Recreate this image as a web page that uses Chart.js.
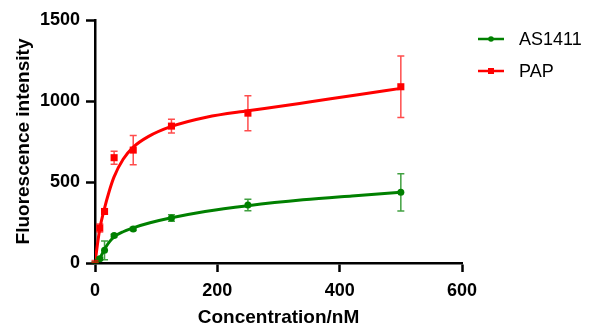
<!DOCTYPE html>
<html lang="en">
  <head>
    <meta charset="utf-8">
    <title>Binding curves</title>
    <script src="https://cdn.jsdelivr.net/npm/chart.js"></script>
    <style>
      html, body { margin: 0; padding: 0; background: #fff; }
      #wrap { width: 591px; height: 329px; }
    </style>
  </head>
  <body>
    <div id="wrap">
        <canvas id="myChart" width="591" height="329"></canvas>
    </div>
  </body>

  <script>
    // measured points (concentration in nM)
    const conc = [0, 7.8, 15.6, 31.25, 62.5, 125, 250, 500];
    const papMean = [10, 216, 318, 650, 697, 845, 925, 1088];
    const papErr = [5, 25, 15, 40, 90, 42, 108, 190];
    const asMean = [5, 27, 78, 169, 210, 278, 358, 436];
    const asErr = [3, 8, 58, 8, 10, 20, 35, 115];

    // fitted curves
    const papFitX = [0, 4, 8, 15, 23, 31, 46, 62.5, 87, 125, 182, 250, 300, 350, 430, 500];
    const papFitY = [0, 115, 214, 330, 440, 530, 640, 715, 780, 843, 900, 940, 966, 994, 1039, 1078];
    const asFitX = [0, 4, 8, 16, 24.5, 32.6, 46, 62.5, 90, 125, 180, 250, 340, 420, 500];
    const asFitY = [0, 12, 30, 88, 135, 165, 193, 217, 248, 279, 318, 354, 390, 414, 436];

    const xTicks = [0, 200, 400, 600];
    const yTicks = [0, 500, 1000, 1500];

    const RED = 'rgb(255, 0, 0)';
    const GREEN = 'rgb(0, 128, 0)';
    const FONT = '"Liberation Sans", Arial, sans-serif';

    const pts = (xs, ys) => xs.map((x, i) => ({x: x, y: ys[i]}));

    const errorBars = {
        id: 'errorBars',
        afterDatasetsDraw(chart) {
            const ctx = chart.ctx;
            const xs = chart.scales.x, ys = chart.scales.y;
            chart.data.datasets.forEach(ds => {
                if (!ds.errs) return;
                ctx.save();
                ctx.strokeStyle = ds.errColor;
                ctx.lineWidth = 1.5;
                ds.data.forEach((p, i) => {
                    const px = xs.getPixelForValue(p.x);
                    const top = ys.getPixelForValue(p.y + ds.errs[i]);
                    const bot = ys.getPixelForValue(Math.max(0, p.y - ds.errs[i]));
                    ctx.beginPath();
                    ctx.moveTo(px, top); ctx.lineTo(px, bot);
                    ctx.moveTo(px - 3.5, top); ctx.lineTo(px + 3.5, top);
                    ctx.moveTo(px - 3.5, bot); ctx.lineTo(px + 3.5, bot);
                    ctx.stroke();
                });
                ctx.restore();
            });
        }
    };

    const sideLegend = {
        id: 'sideLegend',
        afterDraw(chart) {
            const ctx = chart.ctx;
            const items = [
                {label: 'AS1411', color: GREEN, shape: 'circle', y: 39},
                {label: 'PAP', color: RED, shape: 'rect', y: 71}
            ];
            ctx.save();
            items.forEach(it => {
                ctx.strokeStyle = it.color;
                ctx.fillStyle = it.color;
                ctx.lineWidth = 2.5;
                ctx.beginPath();
                ctx.moveTo(478, it.y); ctx.lineTo(504, it.y);
                ctx.stroke();
                if (it.shape === 'circle') {
                    ctx.beginPath(); ctx.arc(491, it.y, 2.8, 0, Math.PI * 2); ctx.fill();
                } else {
                    ctx.fillRect(488, it.y - 3, 6, 6);
                }
                ctx.fillStyle = '#000';
                ctx.font = '18px ' + FONT;
                ctx.textBaseline = 'middle';
                ctx.fillText(it.label, 519, it.y + 1);
            });
            ctx.restore();
        }
    };

    const ctx = document.getElementById('myChart').getContext('2d');
    const myChart = new Chart(ctx, {
        type: 'scatter',
        data: {
            datasets: [
                {
                    label: 'AS1411',
                    data: pts(conc, asMean),
                    errs: asErr,
                    errColor: 'rgba(0, 128, 0, 0.75)',
                    showLine: false,
                    pointStyle: 'circle',
                    pointRadius: 3.5,
                    backgroundColor: GREEN,
                    borderColor: GREEN,
                    borderWidth: 0,
                    order: 0
                },
                {
                    label: 'PAP',
                    data: pts(conc, papMean),
                    errs: papErr,
                    errColor: 'rgba(255, 0, 0, 0.7)',
                    showLine: false,
                    pointStyle: 'rect',
                    pointRadius: 5,
                    backgroundColor: RED,
                    borderColor: RED,
                    borderWidth: 0,
                    order: 0
                },
                {
                    label: 'AS1411 fit',
                    data: pts(asFitX, asFitY),
                    showLine: true,
                    pointRadius: 0,
                    borderColor: GREEN,
                    borderWidth: 3,
                    cubicInterpolationMode: 'monotone',
                    order: 1
                },
                {
                    label: 'PAP fit',
                    data: pts(papFitX, papFitY),
                    showLine: true,
                    pointRadius: 0,
                    borderColor: RED,
                    borderWidth: 3,
                    cubicInterpolationMode: 'monotone',
                    order: 1
                }
            ]
        },
        options: {
            responsive: false,
            animation: false,
            layout: { padding: { top: 20, right: 129, left: 0, bottom: 0 } },
            plugins: {
                legend: { display: false },
                tooltip: { enabled: false }
            },
            scales: {
                x: {
                    type: 'linear',
                    min: 0,
                    max: 600,
                    afterFit: s => { s.height = 66; },
                    afterBuildTicks: s => { s.ticks = xTicks.map(v => ({value: v})); },
                    grid: { drawOnChartArea: false, tickLength: 9, tickWidth: 2.5, tickColor: '#000' },
                    border: { color: '#000', width: 2.5 },
                    ticks: {
                        color: '#000',
                        padding: 8,
                        callback: v => String(v),
                        font: { family: FONT, size: 18, weight: 'bold' }
                    },
                    title: {
                        display: true,
                        text: 'Concentration/nM',
                        color: '#000',
                        padding: { top: 0, bottom: 0 },
                        font: { family: FONT, size: 19, weight: 'bold' }
                    }
                },
                y: {
                    min: 0,
                    max: 1500,
                    afterFit: s => { s.width = 95; },
                    afterBuildTicks: s => { s.ticks = yTicks.map(v => ({value: v})); },
                    grid: { drawOnChartArea: false, tickLength: 9, tickWidth: 2.5, tickColor: '#000' },
                    border: { color: '#000', width: 2.5 },
                    ticks: {
                        color: '#000',
                        padding: 6,
                        callback: v => String(v),
                        font: { family: FONT, size: 18, weight: 'bold' }
                    },
                    title: {
                        display: true,
                        text: 'Fluorescence intensity',
                        color: '#000',
                        padding: { top: 12, bottom: 0 },
                        font: { family: FONT, size: 19, weight: 'bold' }
                    }
                }
            }
        },
        plugins: [errorBars, sideLegend]
    });
    </script>
</html>
